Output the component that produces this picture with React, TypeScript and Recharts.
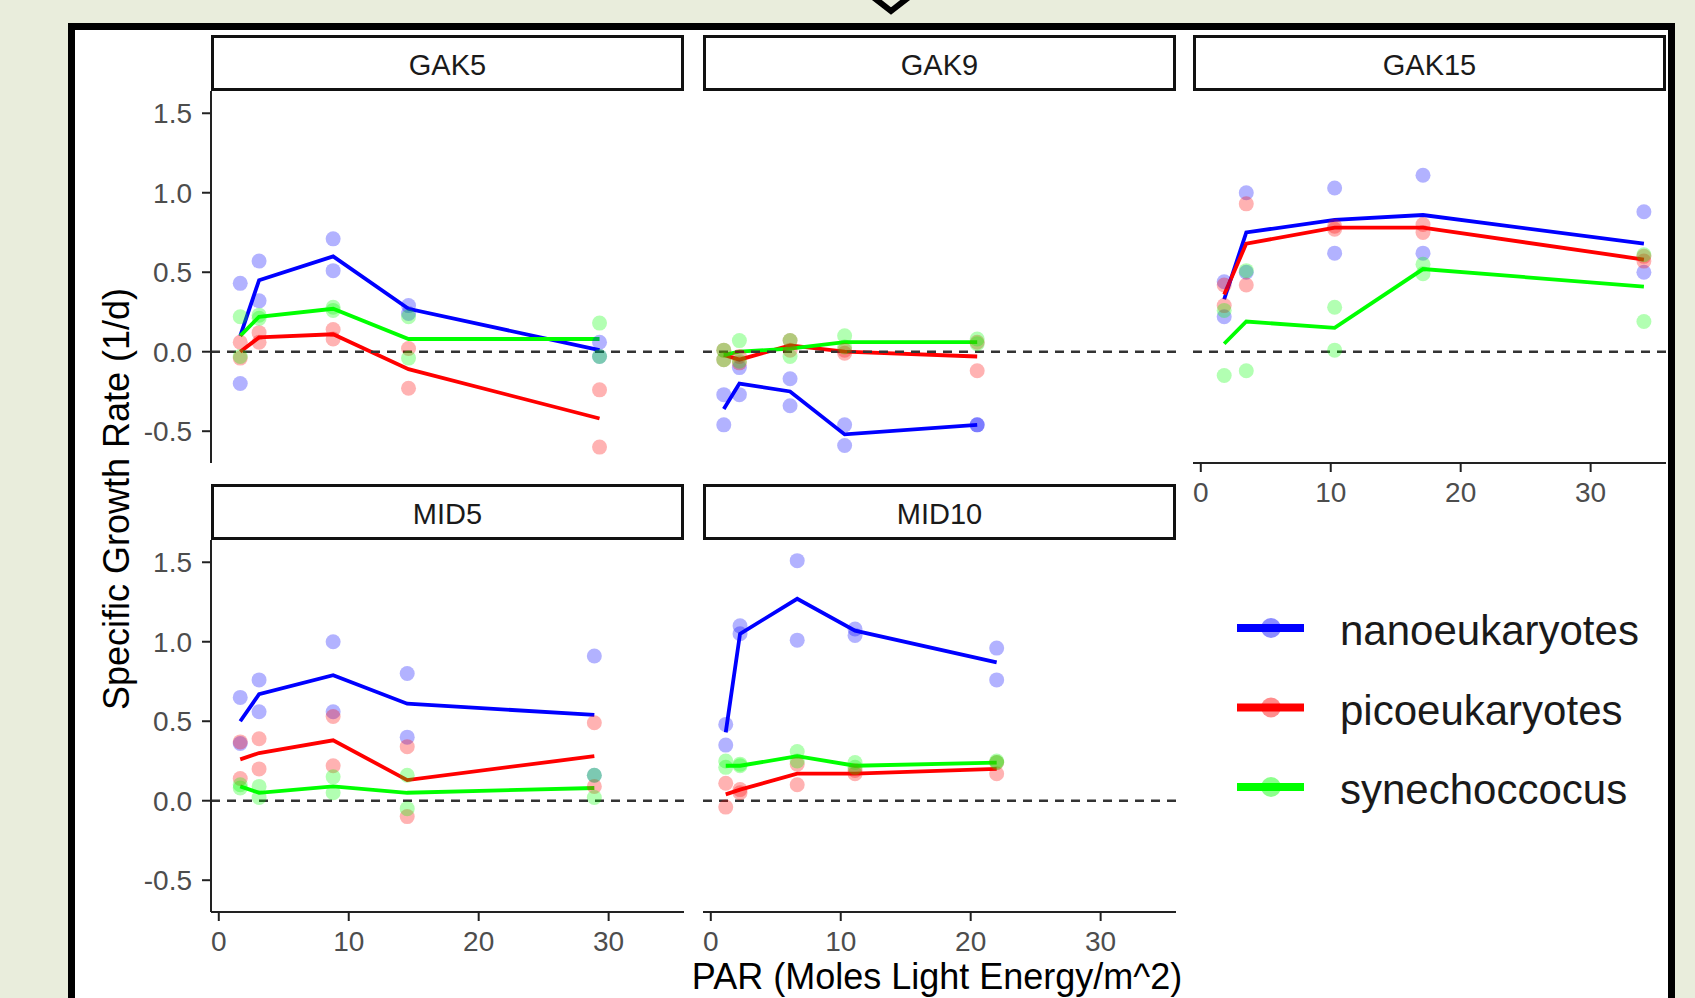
import { ComposedChart, Line, Scatter, XAxis, YAxis, ReferenceLine } from 'recharts'

// PAR (x) per station
const GAK5_PAR = [1.65, 3.1, 8.8, 14.6, 29.3]
const GAK9_PAR = [1.0, 2.2, 6.1, 10.3, 20.5]
const GAK15_PAR = [1.8, 3.5, 10.3, 17.1, 34.1]
const MID5_PAR = [1.65, 3.1, 8.8, 14.5, 28.9]
const MID10_PAR = [1.15, 2.25, 6.65, 11.1, 22.0]

// mean growth rate lines
const GAK5_NANO = [0.1, 0.45, 0.6, 0.27, 0.01]
const GAK5_PICO = [0.0, 0.09, 0.11, -0.11, -0.42]
const GAK5_SYN = [0.1, 0.22, 0.27, 0.08, 0.08]
const GAK9_NANO = [-0.36, -0.2, -0.25, -0.52, -0.46]
const GAK9_PICO = [-0.02, -0.05, 0.04, 0.0, -0.03]
const GAK9_SYN = [-0.02, 0.0, 0.02, 0.06, 0.06]
const GAK15_NANO = [0.33, 0.75, 0.83, 0.86, 0.68]
const GAK15_PICO = [0.36, 0.68, 0.78, 0.78, 0.58]
const GAK15_SYN = [0.05, 0.19, 0.15, 0.52, 0.41]
const MID5_NANO = [0.5, 0.67, 0.79, 0.61, 0.54]
const MID5_PICO = [0.26, 0.3, 0.38, 0.13, 0.28]
const MID5_SYN = [0.09, 0.05, 0.09, 0.05, 0.08]
const MID10_NANO = [0.43, 1.05, 1.27, 1.07, 0.87]
const MID10_PICO = [0.04, 0.07, 0.17, 0.17, 0.2]
const MID10_SYN = [0.22, 0.22, 0.28, 0.22, 0.24]

// replicate measurements (two per PAR level)
const GAK5_NANO_REP = [[0.43, -0.2], [0.57, 0.32], [0.71, 0.51], [0.29, 0.24], [0.06, -0.03]]
const GAK5_PICO_REP = [[0.06, -0.04], [0.12, 0.06], [0.14, 0.08], [0.02, -0.23], [-0.24, -0.6]]
const GAK5_SYN_REP = [[0.22, -0.03], [0.23, 0.21], [0.28, 0.26], [0.22, -0.04], [0.18, -0.03]]
const GAK9_NANO_REP = [[-0.27, -0.46], [-0.1, -0.27], [-0.17, -0.34], [-0.46, -0.59], [-0.46, -0.46]]
const GAK9_PICO_REP = [[0.01, -0.05], [-0.03, -0.07], [0.07, 0.01], [-0.01, 0.01], [-0.12, 0.06]]
const GAK9_SYN_REP = [[0.01, -0.05], [0.07, -0.06], [0.07, -0.03], [0.1, 0.03], [0.08, 0.05]]
const GAK15_NANO_REP = [[0.44, 0.22], [1.0, 0.5], [1.03, 0.62], [1.11, 0.62], [0.88, 0.5]]
const GAK15_PICO_REP = [[0.42, 0.29], [0.93, 0.42], [0.79, 0.77], [0.8, 0.75], [0.6, 0.57]]
const GAK15_SYN_REP = [[0.26, -0.15], [0.51, -0.12], [0.28, 0.01], [0.55, 0.49], [0.61, 0.19]]
const MID5_NANO_REP = [[0.65, 0.36], [0.76, 0.56], [1.0, 0.56], [0.8, 0.4], [0.91, 0.16]]
const MID5_PICO_REP = [[0.37, 0.14], [0.39, 0.2], [0.53, 0.22], [0.34, -0.1], [0.49, 0.09]]
const MID5_SYN_REP = [[0.1, 0.08], [0.09, 0.02], [0.15, 0.05], [0.16, -0.05], [0.16, 0.02]]
const MID10_NANO_REP = [[0.48, 0.35], [1.1, 1.05], [1.51, 1.01], [1.08, 1.04], [0.96, 0.76]]
const MID10_PICO_REP = [[0.11, -0.04], [0.07, 0.05], [0.23, 0.1], [0.19, 0.17], [0.17, 0.24]]
const MID10_SYN_REP = [[0.25, 0.21], [0.23, 0.22], [0.31, 0.25], [0.24, 0.21], [0.25, 0.24]]

const GROUPS = ['nanoeukaryotes', 'picoeukaryotes', 'synechoccocus']
const COLORS = ['#0000ff', '#ff0000', '#00ff00']
const X_TICKS = [0, 10, 20, 30]
const Y_TICKS = [-0.5, 0, 0.5, 1.0, 1.5]

const STATIONS = [
  { name: 'GAK5', par: GAK5_PAR, means: [GAK5_NANO, GAK5_PICO, GAK5_SYN], reps: [GAK5_NANO_REP, GAK5_PICO_REP, GAK5_SYN_REP] },
  { name: 'GAK9', par: GAK9_PAR, means: [GAK9_NANO, GAK9_PICO, GAK9_SYN], reps: [GAK9_NANO_REP, GAK9_PICO_REP, GAK9_SYN_REP] },
  { name: 'GAK15', par: GAK15_PAR, means: [GAK15_NANO, GAK15_PICO, GAK15_SYN], reps: [GAK15_NANO_REP, GAK15_PICO_REP, GAK15_SYN_REP] },
  { name: 'MID5', par: MID5_PAR, means: [MID5_NANO, MID5_PICO, MID5_SYN], reps: [MID5_NANO_REP, MID5_PICO_REP, MID5_SYN_REP] },
  { name: 'MID10', par: MID10_PAR, means: [MID10_NANO, MID10_PICO, MID10_SYN], reps: [MID10_NANO_REP, MID10_PICO_REP, MID10_SYN_REP] },
]

// layout
const FONT = '"Liberation Sans", Arial, sans-serif'
const COL_X = [211, 703, 1193]
const ROW_Y = [91, 540]
const STRIP_H = 56
const PLOT_W = 473
const PLOT_H = 372
const Y_AXIS_W = 75
const X_AXIS_H = 60
const PANEL_POS = [
  { col: 0, row: 0, showY: true, showX: false },
  { col: 1, row: 0, showY: false, showX: false },
  { col: 2, row: 0, showY: false, showX: true },
  { col: 0, row: 1, showY: true, showX: true },
  { col: 1, row: 1, showY: false, showX: true },
]

const tickStyle = { fill: '#4d4d4d', fontSize: 28, fontFamily: FONT }

function makeDot(color: string) {
  return (props: any) => (
    <circle cx={props.cx} cy={props.cy} r={7.5} fill={color} fillOpacity={0.3} />
  )
}

function Panel({ station, pos }: { station: typeof STATIONS[number]; pos: typeof PANEL_POS[number] }) {
  const left = COL_X[pos.col] - (pos.showY ? Y_AXIS_W : 0)
  const width = PLOT_W + (pos.showY ? Y_AXIS_W : 0)
  const height = PLOT_H + (pos.showX ? X_AXIS_H : 0)
  const top = ROW_Y[pos.row]

  return (
    <>
      <div style={{
        position: 'absolute', left: COL_X[pos.col], top: top - STRIP_H, width: PLOT_W, height: STRIP_H,
        border: '3px solid #111', boxSizing: 'border-box', background: '#fff',
        display: 'flex', alignItems: 'center', justifyContent: 'center', paddingTop: 4,
        fontSize: 29, color: '#1a1a1a', fontFamily: FONT,
      }}>
        {station.name}
      </div>
      <div style={{ position: 'absolute', left, top, width, height }}>
        <ComposedChart width={width} height={height} margin={{ top: 0, right: 0, bottom: 0, left: 0 }}>
          <XAxis
            type="number" dataKey="x" domain={[-0.6, 35.8]} ticks={X_TICKS} interval={0}
            allowDataOverflow hide={!pos.showX} height={X_AXIS_H}
            axisLine={{ stroke: '#222', strokeWidth: 2 }} tickLine={{ stroke: '#222', strokeWidth: 2 }}
            tickSize={9} tickMargin={10} tick={tickStyle}
          />
          <YAxis
            type="number" dataKey="y" domain={[-0.7, 1.64]} ticks={Y_TICKS} interval={0}
            allowDataOverflow hide={!pos.showY} width={Y_AXIS_W}
            axisLine={{ stroke: '#222', strokeWidth: 2 }} tickLine={{ stroke: '#222', strokeWidth: 2 }}
            tickSize={9} tickMargin={10} tick={tickStyle}
            tickFormatter={(v: number) => v.toFixed(1)}
          />
          {GROUPS.map((g, gi) => (
            <Scatter
              key={'s' + g}
              name={g}
              data={station.par.flatMap((x, i) => station.reps[gi][i].map((y) => ({ x, y })))}
              fill={COLORS[gi]}
              shape={makeDot(COLORS[gi])}
              isAnimationActive={false}
            />
          ))}
          {GROUPS.map((g, gi) => (
            <Line
              key={'l' + g}
              name={g}
              type="linear"
              data={station.par.map((x, i) => ({ x, y: station.means[gi][i] }))}
              dataKey="y"
              stroke={COLORS[gi]}
              strokeWidth={3.8}
              dot={false}
              activeDot={false}
              isAnimationActive={false}
            />
          ))}
          <ReferenceLine y={0} stroke="#333" strokeWidth={2.5} strokeDasharray="9 7" />
        </ComposedChart>
      </div>
    </>
  )
}

export default function App() {
  return (
    <div style={{
      position: 'fixed', left: 0, top: 0, width: 1695, height: 998, overflow: 'hidden',
      background: '#e9eddc', fontFamily: FONT,
    }}>
      <div style={{
        position: 'absolute', left: 68, top: 23, width: 1607, height: 1100,
        border: '7px solid #000', boxSizing: 'border-box', background: '#fff',
      }} />
      <svg width={1695} height={998} style={{ position: 'absolute', left: 0, top: 0 }}>
        <polyline points="873,-3 891,11 909,-3" fill="none" stroke="#000" strokeWidth={6} />
        <text
          x={116} y={499} transform="rotate(-90 116 499)" textAnchor="middle" dy="0.35em"
          fontSize={36} fill="#000" fontFamily={FONT}
        >
          Specific Growth Rate (1/d)
        </text>
        <text x={937} y={989} textAnchor="middle" fontSize={36} fill="#000" fontFamily={FONT}>
          PAR (Moles Light Energy/m^2)
        </text>
        {GROUPS.map((g, gi) => {
          const y = 628 + gi * 79.5
          return (
            <g key={g}>
              <circle cx={1271} cy={y} r={10} fill={COLORS[gi]} fillOpacity={0.45} />
              <line x1={1237} x2={1304} y1={y} y2={y} stroke={COLORS[gi]} strokeWidth={8} />
              <text x={1340} y={y + 17} fontSize={42} fill="#1a1a1a" fontFamily={FONT}>{g}</text>
            </g>
          )
        })}
      </svg>
      {STATIONS.map((s, i) => (
        <Panel key={s.name} station={s} pos={PANEL_POS[i]} />
      ))}
    </div>
  )
}
